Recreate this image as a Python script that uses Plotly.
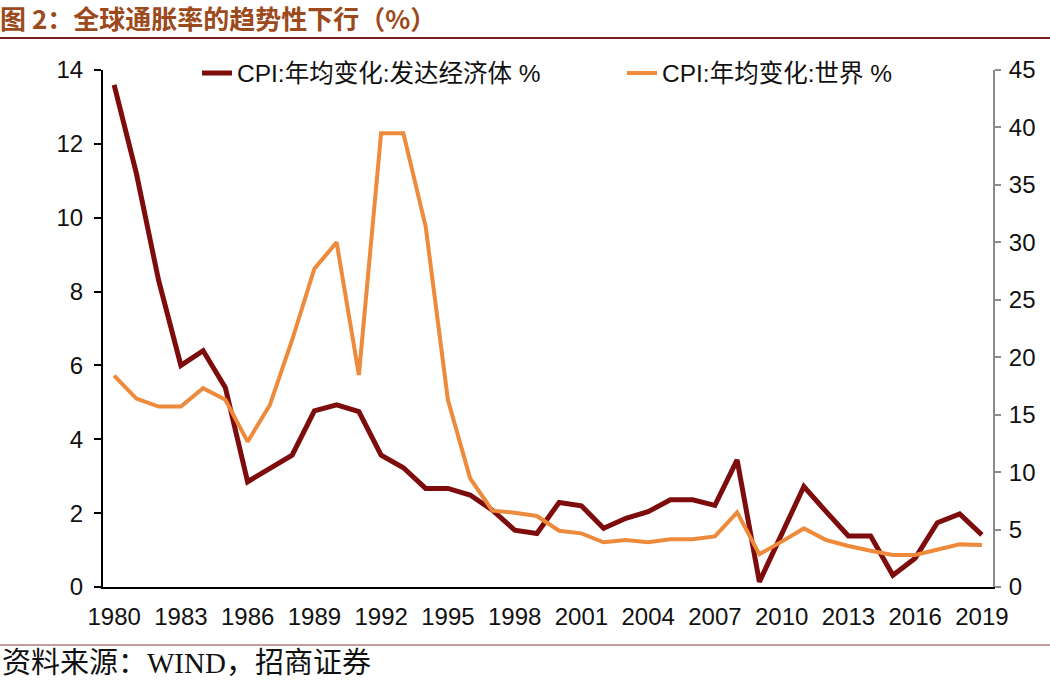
import plotly.graph_objects as go

years = list(range(1980, 2020))
developed = [13.6, 11.2, 8.3, 6.0, 6.4, 5.4, 2.85, 3.22, 3.57, 4.77, 4.93, 4.75,
             3.57, 3.23, 2.67, 2.67, 2.49, 2.08, 1.54, 1.45, 2.29, 2.20, 1.59, 1.86,
             2.04, 2.36, 2.36, 2.21, 3.44, 0.14, 1.45, 2.72, 2.04, 1.38, 1.38, 0.32,
             0.78, 1.74, 1.98, 1.41]
world = [18.4, 16.4, 15.7, 15.7, 17.3, 16.3, 12.65, 15.84, 21.5, 27.7, 30.0, 18.45,
         39.5, 39.5, 31.4, 16.3, 9.46, 6.64, 6.47, 6.18, 4.9, 4.67, 3.89, 4.09,
         3.89, 4.15, 4.15, 4.4, 6.5, 2.85, 3.95, 5.1, 4.09, 3.57, 3.16, 2.79,
         2.79, 3.28, 3.71, 3.66]
xtick_years = list(range(1980, 2020, 3))

name_dev = "CPI:年均变化:发达经济体 %"
name_world = "CPI:年均变化:世界 %"
title_text = "图 2：全球通胀率的趋势性下行（%）"
source_text = "资料来源：WIND，招商证券"

W, H = 1050, 681
L, R, T, B = 103, 57, 70, 94
pw, ph = W - L - R, H - T - B

font_fam = "Liberation Sans, Arial, Noto Sans CJK SC, sans-serif"


def px_x(x):
    return (x - L) / pw


def px_y(y):
    return (H - B - y) / ph


fig = go.Figure()
fig.add_trace(go.Scatter(x=years, y=developed, name=name_dev, mode="lines",
                         line=dict(color="#7E0C0C", width=5), yaxis="y", legend="legend"))
fig.add_trace(go.Scatter(x=years, y=world, name=name_world, mode="lines",
                         line=dict(color="#EE8A3C", width=4), yaxis="y2", legend="legend2"))

leg_common = dict(yanchor="middle", xanchor="left", bgcolor="rgba(0,0,0,0)",
                  font=dict(size=24.5, family=font_fam, color="#111"))

fig.update_layout(
    width=W, height=H,
    margin=dict(l=L, r=R, t=T, b=B),
    paper_bgcolor="white", plot_bgcolor="white",
    font=dict(family=font_fam, size=24, color="#111"),
    showlegend=True,
    legend=dict(x=px_x(197), y=px_y(73), **leg_common),
    legend2=dict(x=px_x(622), y=px_y(73), **leg_common),
    xaxis=dict(range=[1979.5, 2019.5], tickvals=xtick_years, ticktext=[str(y) for y in xtick_years],
               showline=True, linecolor="black", linewidth=2, showgrid=False, zeroline=False,
               ticks="", tickfont=dict(size=24, family=font_fam, color="#111"),
               ticklabelstandoff=7),
    yaxis=dict(range=[0, 14], dtick=2, showline=True, linecolor="black", linewidth=2,
               showgrid=False, zeroline=False, ticks="outside", ticklen=7, tickwidth=2,
               tickcolor="black", tickfont=dict(size=24, family=font_fam, color="#111"),
               ticklabelstandoff=6),
    yaxis2=dict(range=[0, 45], dtick=5, overlaying="y", side="right", showline=True,
                linecolor="#8C8C8C", linewidth=2, showgrid=False, zeroline=False,
                ticks="outside", ticklen=6, tickwidth=2, tickcolor="#8C8C8C",
                tickfont=dict(size=24, family=font_fam, color="#111"), ticklabelstandoff=3),
    title=dict(text="<b>" + title_text + "</b>", x=0.0, xanchor="left", xref="container",
               y=1 - 20 / H, yanchor="middle", yref="container",
               font=dict(size=26, family="Noto Sans CJK SC, serif", color="#9C4A1C")),
    shapes=[
        dict(type="line", xref="paper", yref="paper", x0=px_x(0), x1=px_x(W),
             y0=px_y(38), y1=px_y(38), line=dict(color="#7B1E1E", width=2)),
        dict(type="line", xref="paper", yref="paper", x0=px_x(0), x1=px_x(W),
             y0=px_y(645), y1=px_y(645), line=dict(color="#8B3A3A", width=1)),
    ],
    annotations=[
        dict(text=source_text, xref="paper", yref="paper", x=px_x(0), y=px_y(663),
             xanchor="left", yanchor="middle", showarrow=False,
             font=dict(size=29, family="Liberation Serif, Noto Sans CJK SC, serif", color="#111")),
    ],
)

fig.write_html("out.html", config={"displayModeBar": False},
               post_script="document.body.style.margin='0px';")
